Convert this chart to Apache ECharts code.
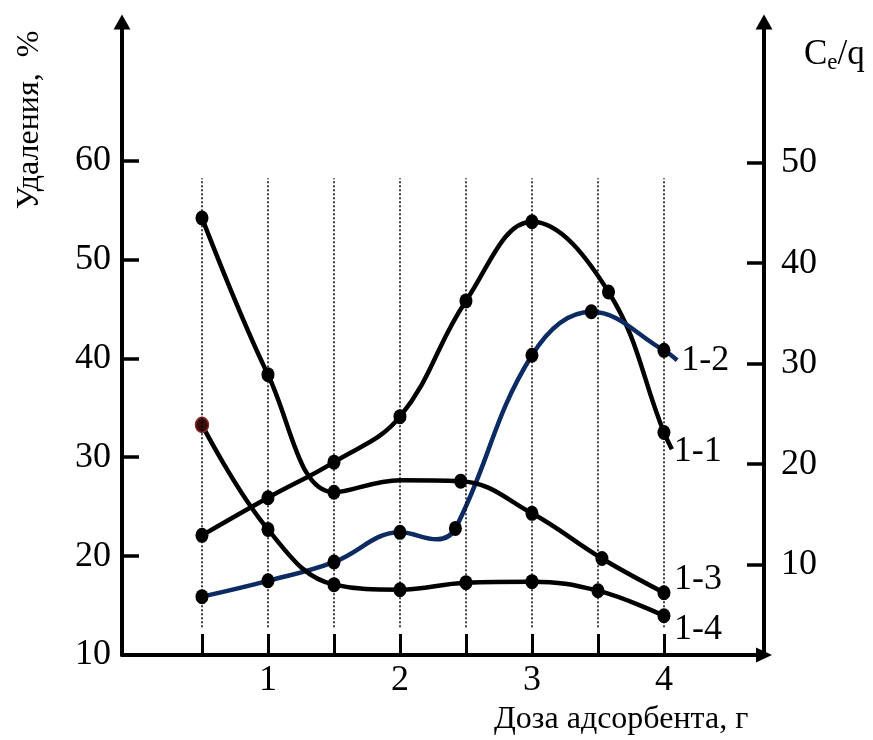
<!DOCTYPE html>
<html>
<head>
<meta charset="utf-8">
<script src="https://cdn.jsdelivr.net/npm/echarts@6/dist/echarts.min.js"></script>
<style>
    body { margin: 0; background: #fff; }
    .chart { width: 873px; height: 740px; }
</style>
</head>
<body>
<div class="chart" id="chart"></div>
<script>
    // доза адсорбента, г (где вертикальные пунктиры)
    let doses = [0.5, 1, 1.5, 2, 2.5, 3, 3.5, 4]
    let xLabels = [1, 2, 3, 4]
    let leftTicks = [20, 30, 40, 50, 60]
    let leftLabels = [10, 20, 30, 40, 50, 60]
    let rightTicks = [10, 20, 30, 40, 50]

    // удаление, % (левая ось)
    let s11 = [[0.5, 22.1], [1, 25.9], [1.5, 29.5], [2, 34.1], [2.5, 45.8], [3, 53.8], [3.58, 46.7], [4, 32.5], [4.06, 30.8]]
    let s12 = [[0.5, 15.9], [1, 17.5], [1.5, 19.4], [2, 22.4], [2.28, 21.7], [2.42, 22.8], [3, 40.3], [3.45, 44.7], [4, 40.8], [4.1, 39.8]]
    // Ce/q (правая ось)
    let s13 = [[0.5, 44.5], [1, 28.9], [1.5, 17.2], [2, 18.4], [2.46, 18.3], [3, 15.1], [3.53, 10.6], [4, 7.2]]
    let s14 = [[0.5, 23.9], [1, 13.5], [1.5, 8.0], [2, 7.5], [2.5, 8.2], [3, 8.3], [3.5, 7.4], [4, 4.9]]

    // точки без маркера (хвосты и изгибы кривых)
    let plain11 = [4.06]
    let plain12 = [2.28, 4.1]
    let plain13 = [2]

    let font = 'Liberation Serif'

    function points(arr, plain, first) {
        return arr.map(function (p, i) {
            let item = {value: p}
            if (plain && plain.indexOf(p[0]) >= 0) {
                item.symbol = 'none'
            }
            if (i == 0 && first) {
                item.itemStyle = first
            }
            return item
        })
    }

    function makeSeries(name, data, yIndex, color, label, offset) {
        return {
            name: name,
            type: 'line',
            yAxisIndex: yIndex,
            smooth: 0.4,
            data: data,
            symbol: 'circle',
            symbolSize: [13, 15],
            lineStyle: {color: color, width: 4.5},
            itemStyle: {color: '#000'},
            endLabel: {
                show: true,
                formatter: label,
                fontFamily: font,
                fontSize: 36,
                color: '#000',
                distance: 0,
                offset: offset
            },
            z: 3
        }
    }

    let guides = doses.map(function (d) {
        return [{coord: [d, 12.8]}, {coord: [d, 58.2]}]
    })

    let chart = echarts.init(document.getElementById('chart'))
    let options = {
        animation: false,
        backgroundColor: '#fff',
        grid: {
            left: 122,
            right: 109,
            top: 22,
            bottom: 85,
            outerBoundsMode: 'none'
        },
        xAxis: {
            type: 'value',
            min: -0.106,
            max: 4.758,
            axisLine: {
                onZero: false,
                lineStyle: {color: '#000', width: 4},
                symbol: ['none', 'triangle'],
                symbolSize: [15, 16]
            },
            axisTick: {
                show: true,
                inside: true,
                length: 21,
                customValues: doses,
                lineStyle: {color: '#000', width: 3}
            },
            axisLabel: {
                customValues: xLabels,
                margin: 8,
                fontFamily: font,
                fontSize: 36,
                color: '#000'
            },
            splitLine: {show: false}
        },
        yAxis: [
            {
                type: 'value',
                min: 10,
                max: 74,
                axisLine: {
                    show: true,
                    onZero: false,
                    lineStyle: {color: '#000', width: 4},
                    symbol: ['none', 'triangle'],
                    symbolSize: [17, 15]
                },
                axisTick: {
                    show: true,
                    inside: true,
                    length: 17,
                    customValues: leftTicks,
                    lineStyle: {color: '#000', width: 3.5}
                },
                axisLabel: {
                    customValues: leftLabels,
                    margin: 11,
                    fontFamily: font,
                    fontSize: 36,
                    color: '#000'
                },
                splitLine: {show: false}
            },
            {
                type: 'value',
                position: 'right',
                min: 1,
                max: 64,
                axisLine: {
                    show: true,
                    onZero: false,
                    lineStyle: {color: '#000', width: 4},
                    symbol: ['none', 'triangle'],
                    symbolSize: [17, 15]
                },
                axisTick: {
                    show: true,
                    inside: true,
                    length: 17,
                    customValues: rightTicks,
                    lineStyle: {color: '#000', width: 3.5}
                },
                axisLabel: {
                    customValues: rightTicks,
                    margin: 17,
                    fontFamily: font,
                    fontSize: 36,
                    color: '#000'
                },
                splitLine: {show: false}
            }
        ],
        graphic: [
            {
                type: 'text',
                x: 30,
                y: 120,
                rotation: Math.PI / 2,
                style: {
                    text: 'Удаления,  %',
                    font: '32px "Liberation Serif"',
                    fill: '#000',
                    align: 'center',
                    verticalAlign: 'middle'
                }
            },
            {
                type: 'text',
                left: 804,
                top: 37,
                style: {
                    text: '{a|C}{b|e}{a|/q}',
                    rich: {
                        a: {fontFamily: font, fontSize: 35, lineHeight: 40, fill: '#000'},
                        b: {fontFamily: font, fontSize: 23, lineHeight: 20, verticalAlign: 'bottom', fill: '#000'}
                    }
                }
            },
            {
                type: 'text',
                left: 494,
                top: 704,
                style: {
                    text: 'Доза адсорбента, г',
                    font: '32px "Liberation Serif"',
                    fill: '#000'
                }
            }
        ],
        series: [
            {
                name: 'guides',
                type: 'line',
                data: [],
                z: 1,
                markLine: {
                    silent: true,
                    symbol: ['none', 'none'],
                    label: {show: false},
                    lineStyle: {color: '#000', width: 1.5, type: [2, 2]},
                    data: guides
                }
            },
            makeSeries('1-1', points(s11, plain11), 0, '#000', '1-1', [2, 2]),
            makeSeries('1-2', points(s12, plain12), 0, '#0d2b63', '1-2', [4, 0]),
            makeSeries('1-3', points(s13, plain13), 1, '#000', '1-3', [10, -13]),
            makeSeries('1-4', points(s14, null, {color: '#3a0d0d', borderColor: '#8b2a2a', borderWidth: 1.5}), 1, '#000', '1-4', [10, 14])
        ]
    }
    chart.setOption(options)
</script>
</body>
</html>
